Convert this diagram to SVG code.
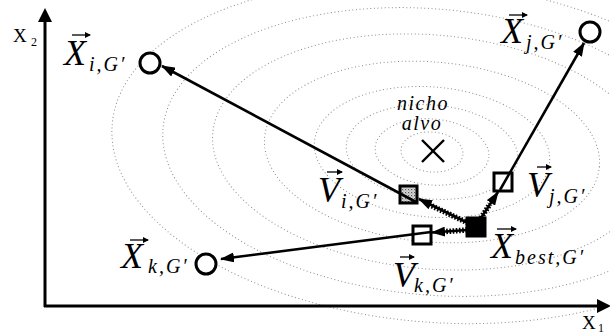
<svg xmlns="http://www.w3.org/2000/svg" width="610" height="336" viewBox="0 0 610 336">
<style>
.ell{fill:none;stroke:#8c8c8c;stroke-width:1;stroke-dasharray:1 2.6}
.ln{stroke:#000;stroke-width:2.6;fill:none}
.dash{stroke:#000;stroke-width:5.5;stroke-dasharray:1.6 1.6;fill:none}
.acc{stroke:#000;stroke-width:1.3;fill:none}
.circ{fill:#fff;stroke:#000;stroke-width:3}
.box{stroke:#000;stroke-width:3}
text{font-family:'Liberation Serif','DejaVu Serif',serif;fill:#000}
.big{font-style:italic;font-size:36px}
.sub{font-style:italic;font-size:20px;letter-spacing:2px}
.ax{font-size:19px}
.axs{font-size:12px}
.it{font-style:italic;font-size:20px;letter-spacing:1.5px}
</style>
<defs>
<marker id="ah" viewBox="0 0 14 10" refX="13" refY="5" markerWidth="14" markerHeight="10" markerUnits="userSpaceOnUse" orient="auto">
<path d="M0,0 L14,5 L0,10 z" fill="#000"/>
</marker>
<marker id="acc" viewBox="0 0 6 6" refX="5" refY="3" markerWidth="6" markerHeight="6" markerUnits="userSpaceOnUse" orient="auto">
<path d="M0,0 L6,3 L0,6 z" fill="#000"/>
</marker>
<pattern id="stip" width="3" height="3" patternUnits="userSpaceOnUse">
<rect width="3" height="3" fill="#d9d9d9"/>
<rect x="0" y="0" width="1.2" height="1.2" fill="#555"/>
<rect x="1.5" y="1.5" width="1" height="1" fill="#888"/>
</pattern>
</defs>

<g id="contours" transform="rotate(5 432 152)">
<ellipse class="ell" cx="432" cy="152" rx="31" ry="20"/>
<ellipse class="ell" cx="432" cy="152" rx="57" ry="33"/>
<ellipse class="ell" cx="432" cy="152" rx="86" ry="47"/>
<ellipse class="ell" cx="432" cy="152" rx="118" ry="65"/>
<ellipse class="ell" cx="432" cy="152" rx="168" ry="90"/>
<ellipse class="ell" cx="432" cy="152" rx="220" ry="117"/>
<ellipse class="ell" cx="432" cy="152" rx="270" ry="143"/>
<ellipse class="ell" cx="432" cy="152" rx="321" ry="170"/>
</g>

<g id="axes">
<line x1="45" y1="307" x2="45" y2="20" stroke="#000" stroke-width="3"/>
<polygon points="45,8 52,22 38,22" fill="#000"/>
<line x1="44" y1="306" x2="598" y2="306" stroke="#000" stroke-width="3"/>
<polygon points="611,306 597,299 597,313" fill="#000"/>
<text class="ax" x="13" y="42">X</text><text class="axs" x="31" y="46">2</text>
<text class="ax" x="582" y="329">X</text><text class="axs" x="598" y="332">1</text>
</g>

<g id="target">
<line x1="422" y1="140" x2="444" y2="162" stroke="#000" stroke-width="2.4"/>
<line x1="444" y1="140" x2="422" y2="162" stroke="#000" stroke-width="2.4"/>
<text class="it" x="423" y="110" text-anchor="middle">nicho</text>
<text class="it" x="422" y="130" text-anchor="middle">alvo</text>
</g>

<g id="Vi"><rect class="box" x="400" y="186" width="17" height="17" fill="url(#stip)"/></g>
<g id="Vj"><rect class="box" x="494" y="173" width="18" height="18" fill="#fff"/></g>
<g id="Vk"><rect class="box" x="413" y="226" width="18" height="18" fill="#fff"/></g>
<g id="Xbest"><rect class="box" x="467" y="218" width="18" height="18" fill="#000"/></g>

<g id="connectors">
<line class="ln" x1="416" y1="202" x2="162" y2="66" marker-end="url(#ah)"/>
<line class="ln" x1="500" y1="190" x2="584" y2="43" marker-end="url(#ah)"/>
<line class="ln" x1="431" y1="232" x2="221" y2="259" marker-end="url(#ah)"/>
<line class="dash" x1="468" y1="223" x2="430" y2="205"/>
<line class="ln" x1="468" y1="223" x2="419" y2="199" stroke-width="2" marker-end="url(#ah)"/>
<line class="dash" x1="467" y1="230" x2="446" y2="231.5"/>
<line class="ln" x1="467" y1="230" x2="432" y2="232.5" stroke-width="2" marker-end="url(#ah)"/>
<line class="dash" x1="481" y1="218" x2="490" y2="204"/>
<line class="ln" x1="481" y1="218" x2="498" y2="192" stroke-width="2" marker-end="url(#ah)"/>
</g>

<g id="Xi">
<circle class="circ" cx="150" cy="63" r="10"/>
<text class="big" x="64" y="65">X</text>
<text class="sub" x="89" y="71">i,G′</text>
<line class="acc" x1="72" y1="35" x2="90" y2="35" marker-end="url(#acc)"/>
</g>
<g id="Xj">
<circle class="circ" cx="590" cy="32" r="10"/>
<text class="big" x="501" y="43">X</text>
<text class="sub" x="526" y="49">j,G′</text>
<line class="acc" x1="509" y1="15" x2="527" y2="15" marker-end="url(#acc)"/>
</g>
<g id="Xk">
<circle class="circ" cx="206" cy="264" r="10"/>
<text class="big" x="121" y="268">X</text>
<text class="sub" x="148" y="273">k,G′</text>
<line class="acc" x1="130" y1="240" x2="148" y2="240" marker-end="url(#acc)"/>
</g>
<g id="labels">
<text class="big" x="318" y="202">V</text>
<text class="sub" x="341" y="208">i,G′</text>
<line class="acc" x1="327" y1="172" x2="342" y2="172" marker-end="url(#acc)"/>
<text class="big" x="527" y="197">V</text>
<text class="sub" x="549" y="203">j,G′</text>
<line class="acc" x1="537" y1="167" x2="551" y2="167" marker-end="url(#acc)"/>
<text class="big" x="393" y="287">V</text>
<text class="sub" x="414" y="292">k,G′</text>
<line class="acc" x1="400" y1="257" x2="414" y2="257" marker-end="url(#acc)"/>
<text class="big" x="491" y="258">X</text>
<text class="sub" x="515" y="264">best,G′</text>
<line class="acc" x1="497" y1="229" x2="516" y2="229" marker-end="url(#acc)"/>
</g>
</svg>
